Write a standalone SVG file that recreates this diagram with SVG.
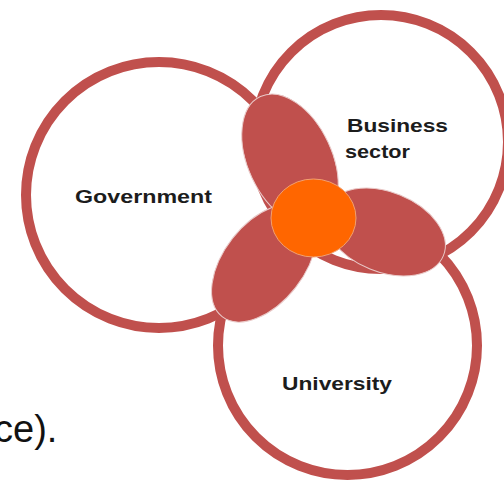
<svg xmlns="http://www.w3.org/2000/svg" width="504" height="483" viewBox="0 0 504 483">
  <style>
    .ring { fill: none; stroke: #c0504d; stroke-width: 10; }
    .lobe { fill: #c0504d; stroke: #e9c9c8; stroke-width: 1; }
    .core { fill: #ff6600; stroke: #f2a070; stroke-width: 1; }
    .lbl { font-family: "Liberation Sans", Arial, sans-serif; font-weight: bold; font-size: 19px; fill: #1c1c1c; }
    .body { font-family: "Liberation Sans", Arial, sans-serif; font-size: 38px; fill: #111; }
  </style>
  <rect x="0" y="0" width="504" height="483" fill="#ffffff"/>
  <text class="body" x="-6" y="442">ce).</text>
  <g id="government">
    <circle class="ring" cx="159" cy="195" r="133"/>
  </g>
  <g id="business-sector">
    <circle class="ring" cx="381" cy="142" r="127"/>
  </g>
  <g id="university">
    <circle class="ring" cx="347.5" cy="345.5" r="129.5"/>
  </g>
  <g id="overlap-gov-business">
    <ellipse class="lobe" cx="290" cy="160" rx="42" ry="70" transform="rotate(-25 290 160)"/>
  </g>
  <g id="overlap-gov-university">
    <ellipse class="lobe" cx="264" cy="263" rx="40" ry="68" transform="rotate(38 264 263)"/>
  </g>
  <g id="overlap-business-university">
    <ellipse class="lobe" cx="385" cy="232" rx="63" ry="40" transform="rotate(22 385 232)"/>
  </g>
  <g id="core">
    <ellipse class="core" cx="313.5" cy="218" rx="42.5" ry="39"/>
  </g>
  <g id="connectors"></g>
  <g id="labels">
    <text class="lbl" x="75" y="203" textLength="137" lengthAdjust="spacingAndGlyphs">Government</text>
    <text class="lbl" x="347" y="132" textLength="101" lengthAdjust="spacingAndGlyphs">Business</text>
    <text class="lbl" x="345" y="158" textLength="65" lengthAdjust="spacingAndGlyphs">sector</text>
    <text class="lbl" x="282" y="390" textLength="110" lengthAdjust="spacingAndGlyphs">University</text>
  </g>
</svg>
